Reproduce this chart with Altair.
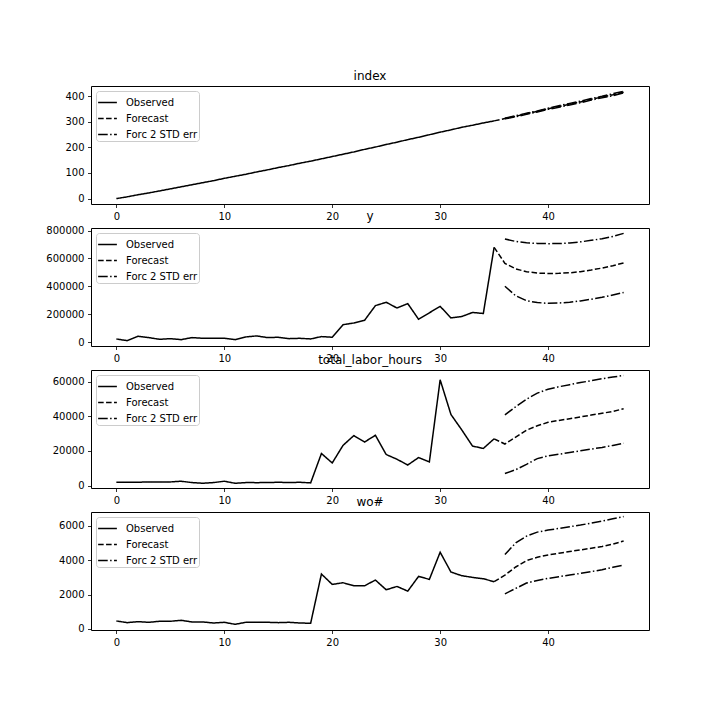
import altair as alt
import pandas as pd

# ---------------- data ----------------
t_obs = list(range(0, 36))
t_fc = list(range(35, 48))   # forecast line starts at last observation
t_err = list(range(36, 48))

names = ["index", "y", "total_labor_hours", "wo#"]

index_obs = [0, 7, 15, 22, 30, 38, 46, 54, 62, 70, 79, 87, 95, 104, 112, 121, 129, 138,
             146, 155, 164, 173, 182, 192, 201, 211, 220, 230, 239, 249, 259, 268, 278, 286,
             295, 303]
index_fc = [312, 321, 331, 340, 350, 359, 368, 377, 387, 396, 405, 415]
index_up = [313, 323, 333, 342, 352, 362, 371, 380, 390, 399, 409, 418]
index_lo = [311, 319, 329, 338, 348, 356, 365, 374, 384, 393, 401, 412]

y_obs = [22000, 9800, 41500, 31700, 19500, 24400, 17100, 31700, 26800, 26800, 26800, 17100,
         36600, 43900, 31700, 34200, 24400, 26800, 22000, 39000, 34200, 124400, 136600,
         156200, 261100, 285500, 244000, 275700, 163500, 209800, 256200, 173200, 183000,
         212300, 205000, 680000]
y_fc = [565000, 525000, 505000, 495000, 492000, 493000, 497000, 505000, 517000, 531000,
        548000, 568000]
y_up = [740000, 722000, 712000, 708000, 706000, 707000, 711000, 719000, 730000, 742000,
        758000, 780000]
y_lo = [400000, 332000, 297000, 283000, 278000, 280000, 285000, 295000, 307000, 321000,
        338000, 355000]

lab_obs = [1970, 1950, 1960, 2170, 2100, 2150, 2560, 1780, 1390, 1780, 2560, 1390, 1780,
           1750, 1780, 1970, 1780, 1970, 1590, 18530, 13080, 23210, 28860, 25160, 29050,
           17950, 15220, 11910, 16200, 13670, 61000, 41000, 32170, 22820, 21450, 27000]
lab_fc = [24000, 28000, 32000, 34500, 36500, 37600, 38600, 39600, 40700, 41700, 42800, 44300]
lab_up = [40800, 45500, 49800, 53300, 55600, 57000, 58200, 59400, 60500, 61600, 62600, 63500]
lab_lo = [7000, 9200, 12300, 15600, 17200, 18100, 19100, 20100, 21100, 22000, 23200, 24500]

wo_obs = [466, 369, 427, 388, 447, 447, 505, 408, 408, 350, 388, 272, 388, 388, 388, 369,
          388, 350, 330, 3188, 2585, 2682, 2507, 2507, 2838, 2274, 2468, 2196, 3051, 2877,
          4451, 3304, 3090, 2993, 2915, 2741]
wo_fc = [3129, 3596, 3965, 4160, 4296, 4393, 4490, 4587, 4684, 4782, 4918, 5100]
wo_up = [4315, 4996, 5384, 5618, 5734, 5831, 5929, 6026, 6143, 6259, 6395, 6520]
wo_lo = [2040, 2352, 2663, 2818, 2935, 3032, 3129, 3226, 3324, 3440, 3576, 3700]

y_domains = [[-21, 439], [-28500, 818500], [-1340, 66650], [-58, 6784]]
y_ticks = [[0, 100, 200, 300, 400],
           [0, 200000, 400000, 600000, 800000],
           [0, 20000, 40000, 60000],
           [0, 2000, 4000, 6000]]
x_ticks = [0, 10, 20, 30, 40]

kinds = ["Observed", "Forecast", "Forc 2 STD err"]
dashes = [[1, 0], [5.55, 2.4], [9.6, 2.4, 1.5, 2.4]]

FONT = "DejaVu Sans"


def panel(name, obs, fc, up, lo, dom, ticks):
    rows = []
    for t, v in zip(t_obs, obs):
        rows.append({"t": t, "v": v, "kind": "Observed", "series": "obs"})
    for t, v in zip(t_fc, [obs[-1]] + fc):
        rows.append({"t": t, "v": v, "kind": "Forecast", "series": "fc"})
    for t, v in zip(t_err, up):
        rows.append({"t": t, "v": v, "kind": "Forc 2 STD err", "series": "up"})
    for t, v in zip(t_err, lo):
        rows.append({"t": t, "v": v, "kind": "Forc 2 STD err", "series": "lo"})
    df = pd.DataFrame(rows)
    return (
        alt.Chart(df)
        .mark_line(color="black", strokeWidth=1.5, strokeCap="butt")
        .encode(
            x=alt.X("t:Q",
                    scale=alt.Scale(domain=[-2.35, 49.35], nice=False, zero=False),
                    axis=alt.Axis(values=x_ticks, title=None, format="d",
                                  labelFlush=False, grid=False)),
            y=alt.Y("v:Q",
                    scale=alt.Scale(domain=dom, nice=False, zero=False),
                    axis=alt.Axis(values=ticks, title=None, format="d",
                                  labelFlush=False, grid=False)),
            strokeDash=alt.StrokeDash(
                "kind:N",
                scale=alt.Scale(domain=kinds, range=dashes),
                legend=alt.Legend(title=None, orient="top-left", offset=5,
                                  fillColor="white", strokeColor="#cccccc",
                                  cornerRadius=3, padding=1,
                                  labelFont=FONT, labelFontSize=10,
                                  labelColor="black", symbolType="stroke",
                                  symbolSize=352, symbolStrokeWidth=1.5,
                                  symbolStrokeColor="black", labelOffset=8,
                                  rowPadding=0),
            ),
            detail="series:N",
            order="t:Q",
        )
        .properties(width=558, height=118,
                    title=alt.TitleParams(name, font=FONT, fontSize=12,
                                          fontWeight="normal", color="black",
                                          anchor="middle", offset=3))
    )


data = [
    (index_obs, index_fc, index_up, index_lo),
    (y_obs, y_fc, y_up, y_lo),
    (lab_obs, lab_fc, lab_up, lab_lo),
    (wo_obs, wo_fc, wo_up, wo_lo),
]

panels = [panel(n, *d, dom, tk) for n, d, dom, tk in zip(names, data, y_domains, y_ticks)]

chart = (
    alt.vconcat(*panels, spacing=24, bounds="flush")
    .resolve_scale(strokeDash="independent", x="independent", y="independent")
    .resolve_legend(strokeDash="independent")
    .properties(padding={"left": 45, "top": 69, "right": 5, "bottom": 5},
                background="white")
    .configure_view(stroke="black", strokeWidth=1)
    .configure_axis(domain=False, tickColor="black", tickSize=3.5, tickWidth=0.8,
                    labelColor="black", labelFont=FONT, labelFontSize=10,
                    labelPadding=3.5)
)

chart.save("out.html", embed_options={"renderer": "svg", "actions": False})
